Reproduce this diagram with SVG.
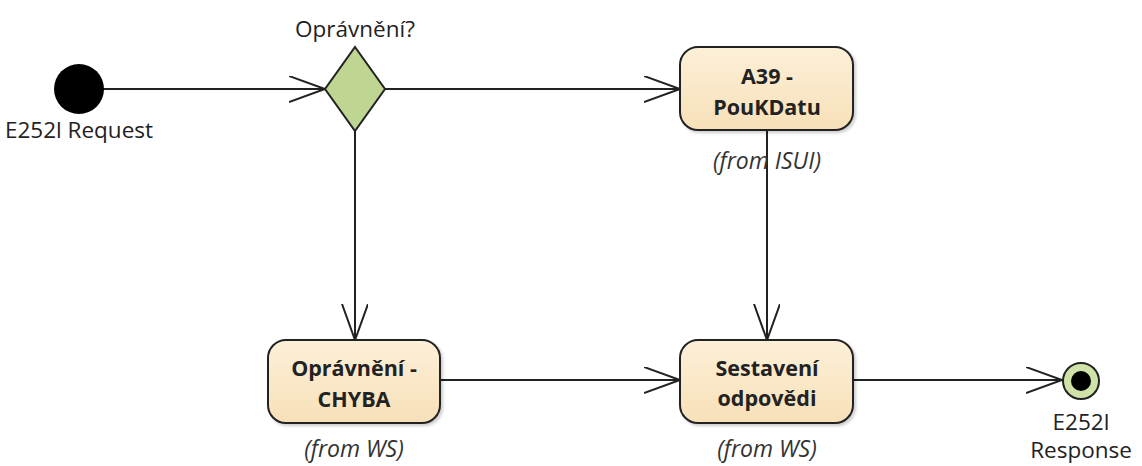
<svg xmlns="http://www.w3.org/2000/svg" width="1142" height="466" viewBox="0 0 1142 466">
<style>
.lbl{font-family:"Open Sans","Noto Sans",sans-serif;font-size:22.5px;fill:#222}
.bold{font-family:"Open Sans","Noto Sans",sans-serif;font-size:21.5px;font-weight:bold;fill:#222}
.it{font-family:"Open Sans","Noto Sans",sans-serif;font-size:23px;font-style:italic;fill:#333}
.act{fill:url(#g);stroke:#222;stroke-width:2}
.edge{fill:none;stroke:#222;stroke-width:2}
</style>
<defs>
<linearGradient id="g" x1="0" y1="0" x2="0" y2="1">
<stop offset="0" stop-color="#fdf0d8"/>
<stop offset="1" stop-color="#f7e0b8"/>
</linearGradient>
<marker id="arr" markerWidth="40" markerHeight="30" refX="36" refY="13" orient="auto" markerUnits="userSpaceOnUse">
<path d="M0,0 L36,13 L0,26" fill="none" stroke="#222" stroke-width="2"/>
</marker>
<filter id="sh" x="-10%" y="-10%" width="130%" height="130%">
<feDropShadow dx="2" dy="2" stdDeviation="1.5" flood-color="#000" flood-opacity="0.2"/>
</filter>
</defs>
<g id="connectors">
<line class="edge" x1="103" y1="89" x2="325" y2="89" marker-end="url(#arr)"/>
<line class="edge" x1="385" y1="89" x2="680" y2="89" marker-end="url(#arr)"/>
<line class="edge" x1="355" y1="131" x2="355" y2="340" marker-end="url(#arr)"/>
<line class="edge" x1="767" y1="130" x2="767" y2="340" marker-end="url(#arr)"/>
<line class="edge" x1="440" y1="380" x2="680" y2="380" marker-end="url(#arr)"/>
<line class="edge" x1="853" y1="380" x2="1062" y2="380" marker-end="url(#arr)"/>
</g>
<g id="start">
<circle cx="79" cy="89" r="25" fill="#000"/>
<text class="lbl" x="79" y="138" text-anchor="middle">E252l Request</text>
</g>
<g id="decision">
<polygon points="355,47 385,89 355,131 325,89" fill="#bfd693" stroke="#222" stroke-width="2"/>
<text class="lbl" x="355" y="37" text-anchor="middle">Oprávnění?</text>
</g>
<g id="a39">
<rect class="act" x="680" y="47" width="173" height="83" rx="18" filter="url(#sh)"/>
<text class="bold" x="767" y="84" text-anchor="middle">A39 -</text>
<text class="bold" x="767" y="115" text-anchor="middle">PouKDatu</text>
<text class="it" x="767" y="169" text-anchor="middle">(from ISUI)</text>
</g>
<g id="chyba">
<rect class="act" x="268" y="340" width="172" height="83" rx="18" filter="url(#sh)"/>
<text class="bold" x="354" y="376" text-anchor="middle">Oprávnění -</text>
<text class="bold" x="354" y="407" text-anchor="middle">CHYBA</text>
<text class="it" x="354" y="457" text-anchor="middle">(from WS)</text>
</g>
<g id="sestaveni">
<rect class="act" x="680" y="340" width="173" height="83" rx="18" filter="url(#sh)"/>
<text class="bold" x="767" y="376" text-anchor="middle">Sestavení</text>
<text class="bold" x="767" y="406" text-anchor="middle">odpovědi</text>
<text class="it" x="767" y="457" text-anchor="middle">(from WS)</text>
</g>
<g id="end">
<circle cx="1081" cy="381" r="18" fill="#cfe3a8" stroke="#222" stroke-width="2"/>
<circle cx="1081" cy="381" r="10" fill="#000"/>
<text class="lbl" x="1081" y="430" text-anchor="middle">E252l</text>
<text class="lbl" x="1081" y="458" text-anchor="middle">Response</text>
</g>
</svg>
